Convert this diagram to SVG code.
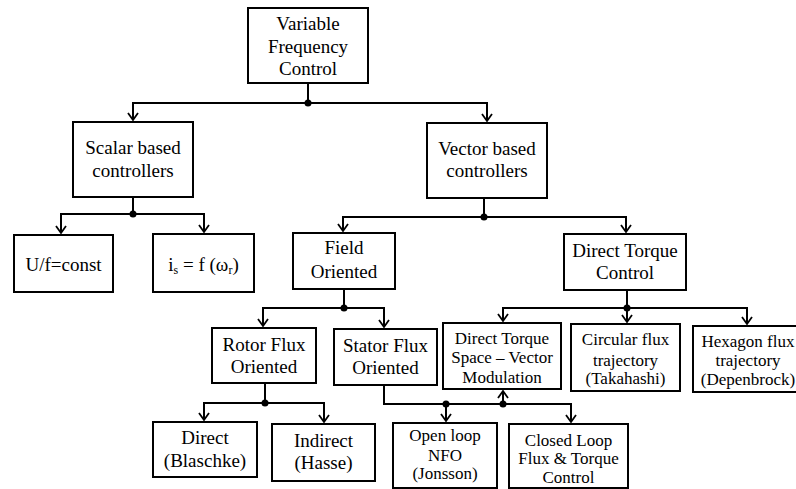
<svg xmlns="http://www.w3.org/2000/svg" width="796" height="489" viewBox="0 0 796 489" font-family="Liberation Serif, Times New Roman, serif">
<style>
.box{fill:#fff;stroke:#000;stroke-width:2}
.t{font-size:19px;fill:#000;text-anchor:middle}
.s{font-size:17px}
.c{fill:none;stroke:#000;stroke-width:2}
.a{marker-end:url(#ah)}
</style>
<defs>
<marker id="ah" markerUnits="userSpaceOnUse" markerWidth="14" markerHeight="14" refX="11" refY="7" orient="auto" viewBox="0 0 14 14">
<path d="M4,2 L11,7 L4,12" fill="none" stroke="#000" stroke-width="1.8"/>
</marker>
</defs>
<rect width="796" height="489" fill="#fff"/>
<g id="connectors">
<path class="c" d="M308,83 V103"/>
<path class="c a" d="M308,103 H133 V120"/>
<path class="c a" d="M308,103 H487 V121"/>
<path class="c" d="M133,197 V214"/>
<path class="c a" d="M133,214 H61 V233"/>
<path class="c a" d="M133,214 H204 V232"/>
<path class="c" d="M484,198 V217"/>
<path class="c a" d="M484,217 H343 V231"/>
<path class="c a" d="M484,217 H626 V232"/>
<path class="c" d="M344,289 V308"/>
<path class="c a" d="M344,308 H263 V326"/>
<path class="c a" d="M344,308 H384 V327"/>
<path class="c" d="M627,290 V308"/>
<path class="c a" d="M627,308 H503 V321"/>
<path class="c a" d="M627,308 V322"/>
<path class="c a" d="M627,308 H747 V324"/>
<path class="c" d="M265,383 V403"/>
<path class="c a" d="M265,403 H204 V420"/>
<path class="c a" d="M265,403 H324 V422"/>
<path class="c a" d="M384,385 V404 H571 V422"/>
<path class="c a" d="M446,404 V421"/>
<path class="c a" d="M503,404 V391"/>
<g fill="#000">
<circle cx="308" cy="103" r="3.5"/>
<circle cx="133" cy="214" r="3.5"/>
<circle cx="484" cy="217" r="3.5"/>
<circle cx="344" cy="308" r="3.5"/>
<circle cx="627" cy="308" r="3.5"/>
<circle cx="265" cy="403" r="3.5"/>
<circle cx="446" cy="404" r="3.5"/>
<circle cx="503" cy="404" r="3.5"/>
</g>
</g>
<g id="vfc"><rect class="box" x="248" y="8" width="120" height="75"/>
<text class="t" x="308" y="30">Variable</text><text class="t" x="308" y="53">Frequency</text><text class="t" x="308" y="75">Control</text></g>
<g id="scalar"><rect class="box" x="73" y="122" width="120" height="75"/>
<text class="t" x="133" y="154">Scalar based</text><text class="t" x="133" y="177">controllers</text></g>
<g id="vector"><rect class="box" x="427" y="123" width="120" height="75"/>
<text class="t" x="487" y="155">Vector based</text><text class="t" x="487" y="177">controllers</text></g>
<g id="uf"><rect class="box" x="14" y="235" width="99" height="57"/>
<text class="t" x="63.5" y="271">U/f=const</text></g>
<g id="is"><rect class="box" x="153" y="234" width="101" height="58"/>
<text class="t" x="203.5" y="271">i<tspan font-size="12" dy="3">s</tspan><tspan dy="-3"> = f (ω</tspan><tspan font-size="12" dy="3">r</tspan><tspan dy="-3">)</tspan></text></g>
<g id="field"><rect class="box" x="293" y="233" width="102" height="56"/>
<text class="t" x="344" y="254">Field</text><text class="t" x="344" y="278">Oriented</text></g>
<g id="dtc"><rect class="box" x="564" y="234" width="122" height="56"/>
<text class="t" x="625" y="257">Direct Torque</text><text class="t" x="625" y="279">Control</text></g>
<g id="rotor"><rect class="box" x="212" y="328" width="104" height="55"/>
<text class="t" x="264" y="351">Rotor Flux</text><text class="t" x="264" y="373">Oriented</text></g>
<g id="stator"><rect class="box" x="334" y="329" width="103" height="56"/>
<text class="t" x="385.5" y="352">Stator Flux</text><text class="t" x="385.5" y="374">Oriented</text></g>
<g id="dtsvm"><rect class="box" x="443" y="323" width="118" height="66"/>
<text class="t s" x="502" y="344">Direct Torque</text><text class="t s" x="502" y="363">Space – Vector</text><text class="t s" x="502" y="383">Modulation</text></g>
<g id="circular"><rect class="box" x="571" y="324" width="109" height="67"/>
<text class="t s" x="625.5" y="345">Circular flux</text><text class="t s" x="625.5" y="366">trajectory</text><text class="t s" x="625.5" y="384">(Takahashi)</text></g>
<g id="hexagon"><rect class="box" x="693" y="326" width="118" height="66"/>
<text class="t s" x="748" y="347">Hexagon flux</text><text class="t s" x="748" y="366">trajectory</text><text class="t s" x="748" y="385">(Depenbrock)</text></g>
<g id="direct"><rect class="box" x="153" y="422" width="104" height="55"/>
<text class="t" x="205" y="444">Direct</text><text class="t" x="205" y="467">(Blaschke)</text></g>
<g id="indirect"><rect class="box" x="272" y="424" width="103" height="57"/>
<text class="t" x="323.5" y="447">Indirect</text><text class="t" x="323.5" y="469">(Hasse)</text></g>
<g id="openloop"><rect class="box" x="393" y="423" width="104" height="65"/>
<text class="t s" x="445" y="441">Open loop</text><text class="t s" x="445" y="461">NFO</text><text class="t s" x="445" y="479">(Jonsson)</text></g>
<g id="closedloop"><rect class="box" x="509" y="424" width="119" height="64"/>
<text class="t s" x="568.5" y="446">Closed Loop</text><text class="t s" x="568.5" y="464">Flux &amp; Torque</text><text class="t s" x="568.5" y="483">Control</text></g>
</svg>
